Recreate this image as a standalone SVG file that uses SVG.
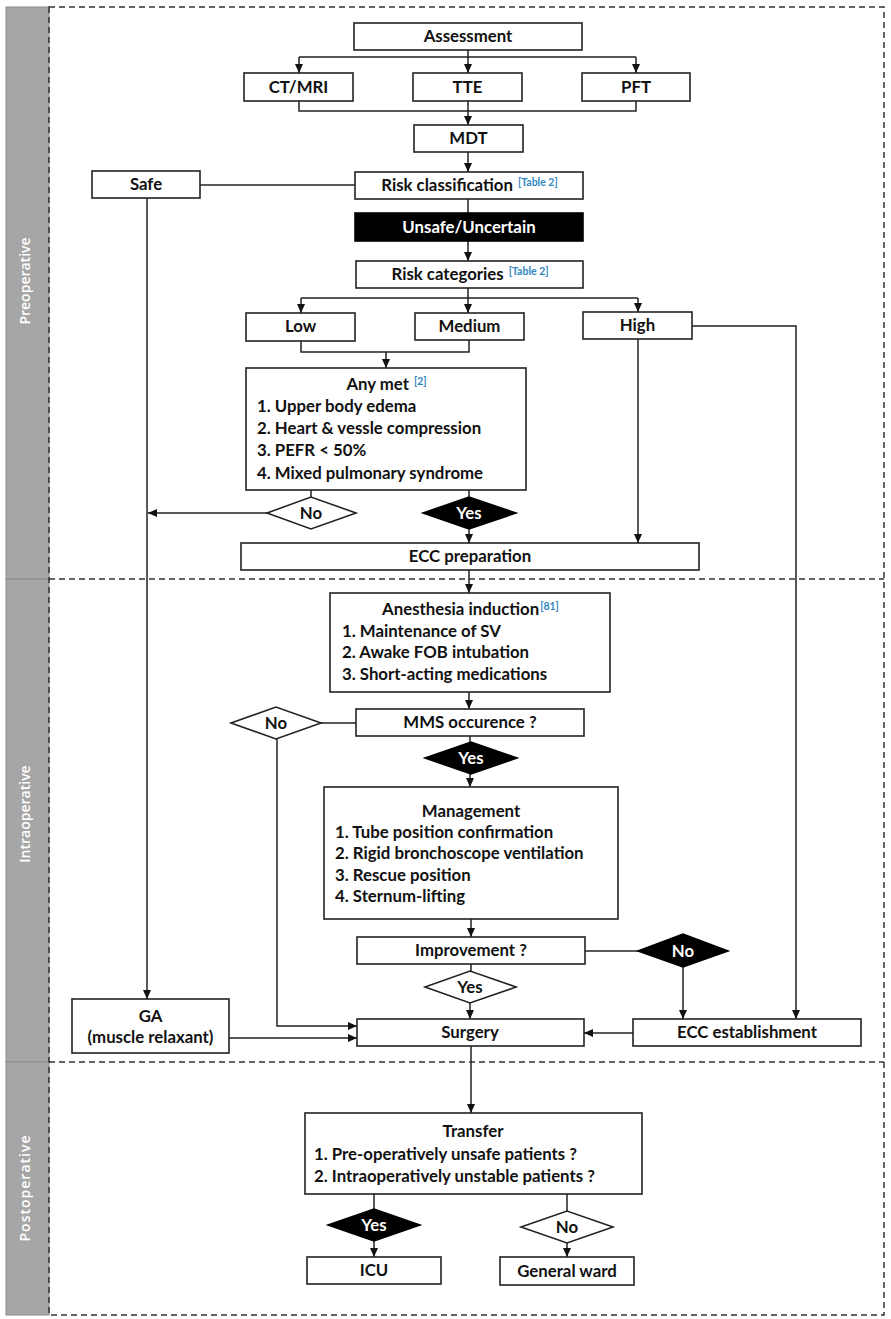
<svg xmlns="http://www.w3.org/2000/svg" width="891" height="1319" viewBox="0 0 891 1319">
<style>
.bx{fill:#fff;stroke:#222;stroke-width:1.6}
.blk{fill:#000;stroke:#000;stroke-width:1.6}
.ln{fill:none;stroke:#222;stroke-width:1.5}
.ar{fill:none;stroke:#222;stroke-width:1.5;marker-end:url(#ah)}
.t{font-family:Lato,"Liberation Sans",sans-serif;font-weight:bold;font-size:16.8px;fill:#111}
.c{text-anchor:middle}
.w{fill:#fff}
.ref{font-size:10.5px;fill:#2f86c0}
.lane{font-family:"Open Sans","Liberation Sans",sans-serif;font-weight:600;font-size:14px;fill:#fff;text-anchor:middle}
.dash{fill:none;stroke:#333;stroke-width:1.5;stroke-dasharray:6 4}
</style>
<defs>
<marker id="ah" markerUnits="userSpaceOnUse" markerWidth="10" markerHeight="10" refX="9" refY="5" orient="auto">
<path d="M0,1 L9,5 L0,9 z" fill="#111"/>
</marker>
</defs>
<rect width="891" height="1319" fill="#fff"/>
<g id="lanes">
<rect x="6" y="7" width="43" height="572" fill="#a6a6a6" stroke="#8c8c8c" stroke-width="1"/>
<rect x="6" y="579" width="43" height="483" fill="#a6a6a6" stroke="#8c8c8c" stroke-width="1"/>
<rect x="6" y="1062" width="43" height="253" fill="#a6a6a6" stroke="#8c8c8c" stroke-width="1"/>
<text class="lane" transform="translate(30,281) rotate(-90)">Preoperative</text>
<text class="lane" transform="translate(30,814) rotate(-90)">Intraoperative</text>
<text class="lane" transform="translate(30,1188) rotate(-90)" letter-spacing="1">Postoperative</text>
<rect class="dash" x="49" y="7" width="835" height="1308"/>
<line class="dash" x1="49" y1="579" x2="884" y2="579"/>
<line class="dash" x1="49" y1="1062" x2="884" y2="1062"/>
</g>
<g id="connectors">
<path class="ln" d="M468,50 V57 M299,57 H636"/>
<path class="ar" d="M299,57 V73"/>
<path class="ar" d="M468,57 V73"/>
<path class="ar" d="M636,57 V73"/>
<path class="ln" d="M299,101 V111 H636 V101"/>
<path class="ar" d="M468,101 V125"/>
<path class="ar" d="M468,152 V172"/>
<path class="ln" d="M200,185 H355"/>
<path class="ar" d="M147,198 V999"/>
<path class="ln" d="M468,199 V213"/>
<path class="ar" d="M468,241 V261"/>
<path class="ln" d="M468,288 V298 M301,298 H638"/>
<path class="ar" d="M301,298 V313"/>
<path class="ar" d="M468,298 V313"/>
<path class="ar" d="M638,298 V312"/>
<path class="ln" d="M301,341 V352 H469 V340"/>
<path class="ar" d="M386,352 V368"/>
<path class="ln" d="M311,490 V497"/>
<path class="ar" d="M267,513 H148"/>
<path class="ln" d="M469,490 V497"/>
<path class="ar" d="M469,529 V543"/>
<path class="ar" d="M638,339 V543"/>
<path class="ar" d="M692,326 H796 V1019"/>
<path class="ar" d="M469,570 V593"/>
<path class="ar" d="M469,692 V709"/>
<path class="ln" d="M321,723 H356"/>
<path class="ar" d="M277,739 V1026 H357"/>
<path class="ln" d="M470,736 V742"/>
<path class="ar" d="M470,773 V787"/>
<path class="ar" d="M471,919 V937"/>
<path class="ln" d="M585,951 H638"/>
<path class="ar" d="M683,967 V1019"/>
<path class="ln" d="M471,964 V971"/>
<path class="ar" d="M470,1003 V1019"/>
<path class="ar" d="M633,1033 H584"/>
<path class="ar" d="M229,1038 H357"/>
<path class="ar" d="M471,1046 V1113"/>
<path class="ln" d="M374,1194 V1209"/>
<path class="ar" d="M374,1241 V1257"/>
<path class="ln" d="M567,1194 V1211"/>
<path class="ar" d="M567,1243 V1257"/>
</g>
<g id="assessment"><rect class="bx" x="354" y="23" width="228" height="27"/><text class="t c" x="468" y="42">Assessment</text></g>
<g id="ctmri"><rect class="bx" x="244" y="73" width="109" height="28"/><text class="t c" x="298.5" y="93">CT/MRI</text></g>
<g id="tte"><rect class="bx" x="413" y="73" width="109" height="28"/><text class="t c" x="467.5" y="93">TTE</text></g>
<g id="pft"><rect class="bx" x="582" y="73" width="108" height="28"/><text class="t c" x="636" y="93">PFT</text></g>
<g id="mdt"><rect class="bx" x="414" y="125" width="109" height="27"/><text class="t c" x="468.5" y="144">MDT</text></g>
<g id="risk-class"><rect class="bx" x="355" y="172" width="228" height="27"/><text class="t c" x="469.5" y="191">Risk classification<tspan class="ref" dx="5" dy="-5">[Table 2]</tspan></text></g>
<g id="safe"><rect class="bx" x="92" y="171" width="108" height="27"/><text class="t c" x="146" y="190">Safe</text></g>
<g id="unsafe"><rect class="blk" x="355" y="213" width="228" height="28"/><text class="t c w" x="469" y="233">Unsafe/Uncertain</text></g>
<g id="risk-cat"><rect class="bx" x="356" y="261" width="227" height="27"/><text class="t c" x="470" y="280">Risk categories<tspan class="ref" dx="5" dy="-5">[Table 2]</tspan></text></g>
<g id="low"><rect class="bx" x="246" y="313" width="109" height="28"/><text class="t c" x="300.5" y="332">Low</text></g>
<g id="medium"><rect class="bx" x="415" y="313" width="109" height="27"/><text class="t c" x="469.5" y="332">Medium</text></g>
<g id="high"><rect class="bx" x="583" y="312" width="109" height="27"/><text class="t c" x="637.5" y="331">High</text></g>
<g id="anymet"><rect class="bx" x="246" y="368" width="280" height="122"/>
<text class="t c" x="386.5" y="390">Any met<tspan class="ref" dx="5" dy="-5">[2]</tspan></text>
<text class="t" x="257" y="412">1. Upper body edema</text>
<text class="t" x="257" y="434">2. Heart &amp; vessle compression</text>
<text class="t" x="257" y="456">3. PEFR &lt; 50%</text>
<text class="t" x="257" y="479">4. Mixed pulmonary syndrome</text></g>
<g id="no1"><polygon class="bx" points="267,513 311,497 356,513 311,529"/><text class="t c" x="311" y="519">No</text></g>
<g id="yes1"><polygon class="blk" points="423,513 469,497 516,513 469,529"/><text class="t c w" x="469" y="519">Yes</text></g>
<g id="ecc-prep"><rect class="bx" x="241" y="543" width="458" height="27"/><text class="t c" x="470" y="562">ECC preparation</text></g>
<g id="anesthesia"><rect class="bx" x="330" y="593" width="280" height="99"/>
<text class="t c" x="470.5" y="615">Anesthesia induction<tspan class="ref" dx="1" dy="-5">[81]</tspan></text>
<text class="t" x="342" y="637">1. Maintenance of SV</text>
<text class="t" x="342" y="658">2. Awake FOB intubation</text>
<text class="t" x="342" y="680">3. Short-acting medications</text></g>
<g id="mms"><rect class="bx" x="356" y="709" width="228" height="27"/><text class="t c" x="470" y="728">MMS occurence ?</text></g>
<g id="no2"><polygon class="bx" points="231,723 276,707 321,723 276,739"/><text class="t c" x="276" y="729">No</text></g>
<g id="yes2"><polygon class="blk" points="425,758 471,742 517,758 471,774"/><text class="t c w" x="471" y="764">Yes</text></g>
<g id="management"><rect class="bx" x="324" y="787" width="294" height="132"/>
<text class="t c" x="471" y="817">Management</text>
<text class="t" x="335" y="838">1. Tube position confirmation</text>
<text class="t" x="335" y="859">2. Rigid bronchoscope ventilation</text>
<text class="t" x="335" y="881">3. Rescue position</text>
<text class="t" x="335" y="902">4. Sternum-lifting</text></g>
<g id="improvement"><rect class="bx" x="357" y="937" width="228" height="27"/><text class="t c" x="471" y="956">Improvement ?</text></g>
<g id="no3"><polygon class="blk" points="638,951 683,934 728,951 683,967"/><text class="t c w" x="683" y="957">No</text></g>
<g id="yes3"><polygon class="bx" points="425,987 470,971 516,987 470,1003"/><text class="t c" x="470" y="993">Yes</text></g>
<g id="surgery"><rect class="bx" x="357" y="1019" width="227" height="27"/><text class="t c" x="470" y="1038">Surgery</text></g>
<g id="ecc-est"><rect class="bx" x="633" y="1019" width="228" height="27"/><text class="t c" x="747" y="1038">ECC establishment</text></g>
<g id="ga"><rect class="bx" x="72" y="999" width="157" height="54"/>
<text class="t c" x="150.5" y="1022">GA</text>
<text class="t c" x="150.5" y="1043">(muscle relaxant)</text></g>
<g id="transfer"><rect class="bx" x="305" y="1113" width="337" height="81"/>
<text class="t c" x="473" y="1137">Transfer</text>
<text class="t" x="314" y="1160">1. Pre-operatively unsafe patients ?</text>
<text class="t" x="314" y="1182">2. Intraoperatively unstable patients ?</text></g>
<g id="yes4"><polygon class="blk" points="328,1225 374,1209 420,1225 374,1241"/><text class="t c w" x="374" y="1231">Yes</text></g>
<g id="no4"><polygon class="bx" points="521,1227 567,1211 613,1227 567,1243"/><text class="t c" x="567" y="1233">No</text></g>
<g id="icu"><rect class="bx" x="307" y="1257" width="134" height="27"/><text class="t c" x="374" y="1276">ICU</text></g>
<g id="ward"><rect class="bx" x="500" y="1257" width="134" height="28"/><text class="t c" x="567" y="1277">General ward</text></g>
</svg>
